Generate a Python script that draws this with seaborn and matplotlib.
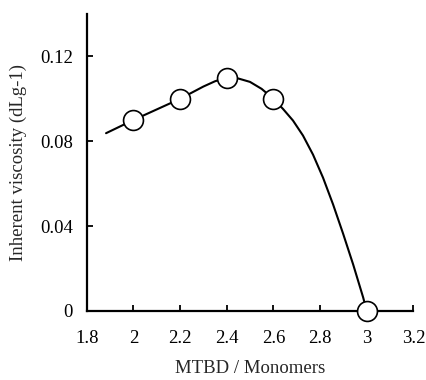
import matplotlib
matplotlib.use("Agg")
import matplotlib.pyplot as plt
import seaborn as sns
import pandas as pd

# measured points (circles)
ratio = [2.0, 2.2, 2.4, 2.6, 3.0]
viscosity = [0.090, 0.100, 0.110, 0.100, 0.0]

# smoothed trend line
curve_x = [1.883, 2.0, 2.1, 2.2, 2.3, 2.35, 2.4, 2.45, 2.5, 2.55, 2.6, 2.641,
           2.684, 2.727, 2.770, 2.813, 2.856, 2.899, 2.942, 2.985, 3.0]
curve_y = [0.0838, 0.090, 0.0950, 0.100, 0.1058, 0.1083, 0.110, 0.1096,
           0.1080, 0.1047, 0.100, 0.0953, 0.0898, 0.0827, 0.0737, 0.0628,
           0.0502, 0.0364, 0.0219, 0.0063, 0.0]

x_ticks = [1.8, 2.0, 2.2, 2.4, 2.6, 2.8, 3.0, 3.2]
x_ticklabels = ["1.8", "2", "2.2", "2.4", "2.6", "2.8", "3", "3.2"]
y_ticks = [0, 0.04, 0.08, 0.12]
y_ticklabels = ["0", "0.04", "0.08", "0.12"]

points = pd.DataFrame({"ratio": ratio, "viscosity": viscosity})
curve = pd.DataFrame({"x": curve_x, "y": curve_y})

sns.set_style("ticks")
plt.rcParams["font.family"] = ["Liberation Serif", "DejaVu Serif"]

fig = plt.figure(figsize=(4.27, 3.8), dpi=100)
ax = fig.add_axes([0.203, 0.182, 0.765, 0.781])

sns.lineplot(data=curve, x="x", y="y", ax=ax, color="black", linewidth=1.5,
             sort=False, estimator=None)
sns.scatterplot(data=points, x="ratio", y="viscosity", ax=ax, s=205,
                facecolor="white", edgecolor="black", linewidth=1.2,
                zorder=5, clip_on=False)

ax.set_xlim(1.8, 3.2)
ax.set_ylim(0, 0.14)
ax.set_xticks(x_ticks)
ax.set_xticklabels(x_ticklabels)
ax.set_yticks(y_ticks)
ax.set_yticklabels(y_ticklabels)

sns.despine(ax=ax)
for side in ["left", "bottom"]:
    ax.spines[side].set_linewidth(1.6)
    ax.spines[side].set_color("black")

ax.tick_params(axis="x", direction="in", length=4, width=1.3, labelsize=13.5,
               pad=14, colors="black")
ax.tick_params(axis="y", direction="in", length=4, width=1.3, labelsize=13.5,
               pad=10, colors="black")

ax.set_xlabel("MTBD / Monomers", fontsize=13.5, labelpad=9)
ax.set_ylabel("Inherent viscosity (dLg-1)", fontsize=13.5, labelpad=9)

fig.savefig("out.png", dpi=100)
